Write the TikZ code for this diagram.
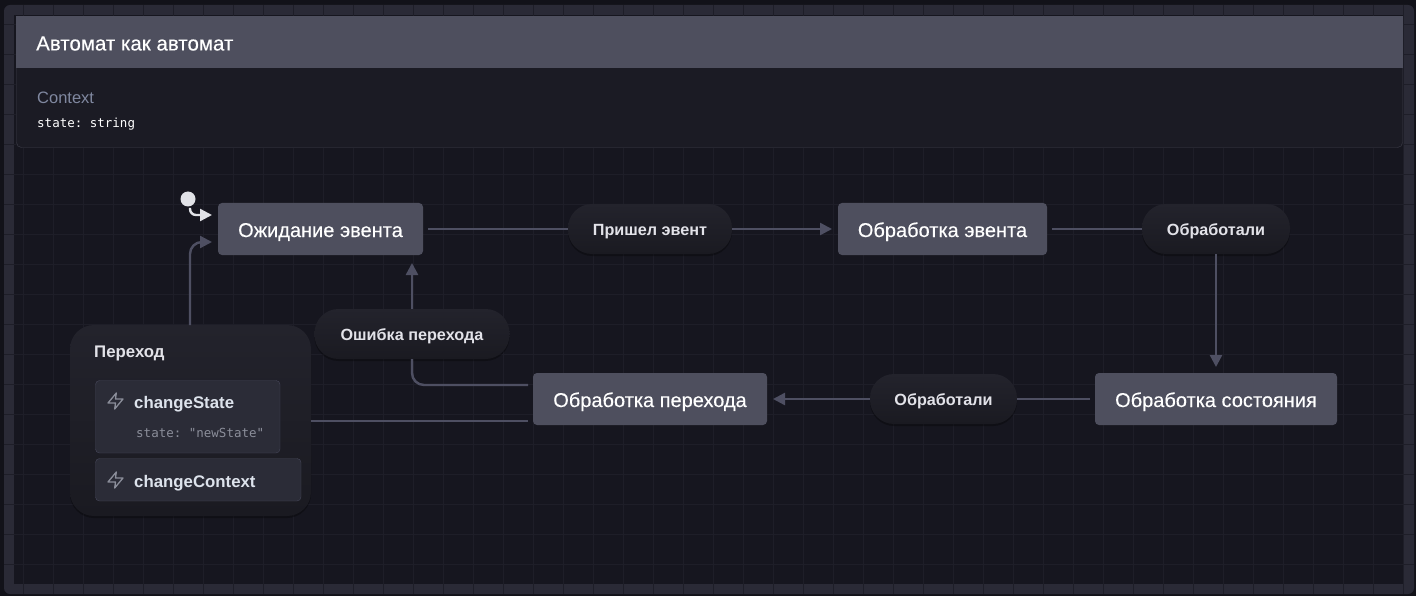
\documentclass[tikz,border=0pt]{standalone}
\usepackage{fontspec}
\setmainfont{Liberation Sans}
\setmonofont{DejaVu Sans Mono}
\newfontfamily\mediumfont[FakeBold=0.25]{Liberation Sans}
\usetikzlibrary{arrows.meta, positioning, shadows}

\definecolor{outerbg}{HTML}{121219}
\definecolor{frameband}{HTML}{2A2A36}
\definecolor{canvasbg}{HTML}{16161F}
\definecolor{gridcol}{HTML}{1E1E28}
\definecolor{headfill}{HTML}{4E4F5E}
\definecolor{cardfill}{HTML}{1B1B24}
\definecolor{cardline}{HTML}{3C3C48}
\definecolor{edgecol}{HTML}{4E4F62}
\definecolor{pilltop}{HTML}{23232C}
\definecolor{pillbot}{HTML}{1A1A21}
\definecolor{pilltext}{HTML}{E2E2E8}
\definecolor{actfill}{HTML}{2B2C37}
\definecolor{actline}{HTML}{46475A}
\definecolor{dotcol}{HTML}{E1E2E7}
\definecolor{ctxtext}{HTML}{8088A0}
\definecolor{paramtext}{HTML}{8B8E9A}
\definecolor{acttext}{HTML}{DDE3EC}

\begin{document}
\begin{tikzpicture}[
        x=1pt, y=-1pt,
        softshadow/.style={general shadow={shadow yshift=-2pt, fill=black, opacity=0.3}},
        statebox/.style={rectangle, rounded corners=4pt, fill=headfill, text=white, inner sep=0pt, outer sep=0pt, minimum height=52pt, text height=16pt, text depth=0pt, font=\fontsize{20}{24}\selectfont\mediumfont},
        pill/.style={rectangle, rounded corners=24pt, top color=pilltop, bottom color=pillbot, softshadow, text=pilltext, inner sep=0pt, outer sep=0pt, minimum height=50pt, text height=13pt, text depth=0pt, font=\fontsize{16.2}{19}\selectfont\bfseries},
        actbox/.style={rectangle, draw=actline, fill=actfill, rounded corners=4pt, inner sep=0pt, outer sep=0pt, anchor=north west},
        actname/.style={anchor=west, inner sep=0pt, text=acttext, font=\fontsize{16.8}{20}\selectfont\bfseries},
        monotext/.style={anchor=west, inner sep=0pt, font=\fontsize{12.5}{15}\selectfont\ttfamily},
        arrow/.style={-{Triangle[length=12pt, width=12pt]}, edgecol, line width=2.4pt, shorten >=6pt},
        plainedge/.style={edgecol, line width=2.4pt},
        boltIcon/.pic={
            \draw[paramtext, line width=1.3pt, line join=round]
                (0.8,-8) -- (-7.5,2) -- (0,2) -- (-0.8,8) -- (7.5,-2) -- (0,-2) -- cycle;
        },
        ]

        % Frame and grid
        \useasboundingbox (0,0) rectangle (1416,596);
        \fill[outerbg] (0,0) rectangle (1416,596);
        \fill[frameband, rounded corners=6pt] (4,5) rectangle (1414,594);
        \fill[canvasbg] (14,15) rectangle (1404,584);
        \foreach \gx in {23,53,...,1403} {
            \draw[gridcol] (\gx,5) -- (\gx,594);
        }
        \foreach \gy in {24,54,...,564} {
            \draw[gridcol] (4,\gy) -- (1414,\gy);
        }

        % Header card
        \fill[cardfill, rounded corners=5pt] (16,60) rectangle (1403,148);
        \draw[cardline, rounded corners=5pt] (16.5,60) -- (16.5,147.5) -- (1402.5,147.5) -- (1402.5,60);
        \node[rectangle, fill=headfill, anchor=north west, inner sep=0pt, outer sep=0pt, minimum width=1387pt, minimum height=52pt] (headBar) at (16,16) {};
        \node[anchor=west, inner sep=0pt, text=white, font=\fontsize{20.5}{24}\selectfont\mediumfont] (machineTitle) at (36,43.5) {Автомат как автомат};
        \node[anchor=west, inner sep=0pt, text=ctxtext, font=\fontsize{16.5}{20}\selectfont] (ctxLabel) at (37,98) {Context};
        \node[monotext, text=white] (ctxField) at (37,124.5) {state: string};

        % States and events
        \node[statebox, minimum width=205pt] (waitEvent) at (320.5,229) {Ожидание эвента};
        \node[pill, minimum width=164pt, right=145pt of waitEvent] (gotEvent) {Пришел эвент};
        \node[statebox, minimum width=209pt, right=106pt of gotEvent] (procEvent) {Обработка эвента};
        \node[pill, minimum width=148pt, right=95pt of procEvent] (doneEvent) {Обработали};
        \node[statebox, minimum width=242pt, below=119pt of doneEvent] (procState) {Обработка состояния};
        \node[pill, minimum width=147pt, left=78pt of procState] (doneState) {Обработали};
        \node[statebox, minimum width=234pt, left=103pt of doneState] (procTrans) {Обработка перехода};
        \node[pill, minimum width=195pt] (errTrans) at (412,334) {Ошибка перехода};

        % Group with actions
        \node[rectangle, rounded corners=24pt, top color=pilltop, bottom color=pillbot, softshadow, inner sep=0pt, outer sep=0pt, minimum width=241pt, minimum height=191pt, anchor=north west] (transGroup) at (70,325) {};
        \node[anchor=west, inner sep=0pt, text=pilltext, font=\fontsize{16.8}{20}\selectfont\bfseries] (groupTitle) at (94,353) {Переход};
        \node[actbox, minimum width=184.5pt, minimum height=72.5pt] (stateAct) at (95.5,380.5) {};
        \pic at (115.5,401) {boltIcon};
        \node[actname] (stateName) at (134,404.5) {changeState};
        \node[monotext, text=paramtext] (stateParam) at (136,433) {state: "newState"};
        \node[actbox, minimum width=205.5pt, minimum height=42.5pt] (contextAct) at (95.5,458.5) {};
        \pic at (115.5,480) {boltIcon};
        \node[actname] (contextName) at (134,483.5) {changeContext};

        % Free ends
        \coordinate (initOut) at (190,208);
        \coordinate (initIn) at (218,215);
        \coordinate (groupOut) at (190,325);
        \coordinate (groupIn) at (218,242);
        \coordinate (errStart) at (533,385);
        \coordinate (transIn) at (533,421);

        % Arrows
        \draw[plainedge, shorten <=5pt] (waitEvent) -- (gotEvent);
        \draw[arrow] (gotEvent) -- (procEvent);
        \draw[plainedge, shorten <=5pt] (procEvent) -- (doneEvent);
        \draw[arrow] (doneEvent) -- (procState);
        \draw[plainedge, shorten <=5pt] (procState) -- (doneState);
        \draw[arrow] (doneState) -- (procTrans);
        \draw[plainedge, shorten <=5pt, rounded corners=12pt] (errStart) -| (errTrans.south);
        \draw[arrow, shorten >=8pt] (errTrans.north) -- (errTrans.north |- waitEvent.south);
        \draw[plainedge, shorten >=5pt] (transIn -| transGroup.east) -- (transIn);
        \draw[arrow, rounded corners=12pt] (groupOut) |- (groupIn);

        % Initial state
        \draw[arrow, dotcol, rounded corners=6pt] (initOut) |- (initIn);
        \node[circle, fill=dotcol, inner sep=0pt, minimum size=15pt] (initDot) at (188,199) {};

    \end{tikzpicture}
\end{document}
